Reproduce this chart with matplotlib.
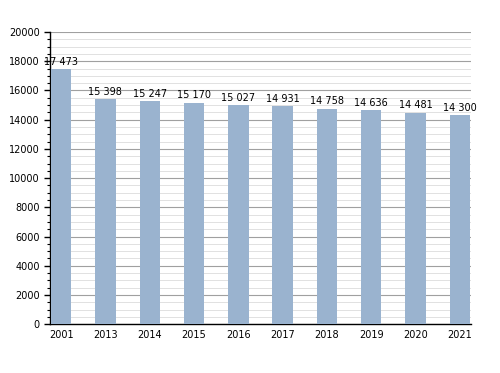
import matplotlib.pyplot as plt
from matplotlib.ticker import MultipleLocator

years = ['2001', '2013', '2014', '2015', '2016', '2017', '2018', '2019', '2020', '2021']
population = [17473, 15398, 15247, 15170, 15027, 14931, 14758, 14636, 14481, 14300]

fig = plt.figure(figsize=(5, 3.73), dpi=100)
ax = fig.add_axes([0.1, 0.131, 0.842, 0.783])

x = list(range(len(years)))
ax.bar(x, population, width=0.46, color='#9ab3cf', zorder=3)

for xi, v in zip(x, population):
    label = f'{v:,}'.replace(',', ' ')
    ax.text(xi, v + 150, label, ha='center', va='bottom', fontsize=7, zorder=4)

ax.set_xlim(-0.25, 9.25)
ax.set_ylim(0, 20000)
ax.set_xticks(x)
ax.set_xticklabels(years, fontsize=7)
ax.yaxis.set_major_locator(MultipleLocator(2000))
ax.yaxis.set_minor_locator(MultipleLocator(500))
ax.tick_params(axis='y', labelsize=7, length=4, width=1)
ax.tick_params(axis='y', which='minor', length=2, width=0.8)
ax.tick_params(axis='x', length=0, pad=4)

ax.grid(axis='y', which='major', color='#a0a0a0', linewidth=0.8, zorder=0)
ax.grid(axis='y', which='minor', color='#dcdcdc', linewidth=0.6, zorder=0)

for side in ['top', 'right']:
    ax.spines[side].set_visible(False)
ax.spines['left'].set_linewidth(1)
ax.spines['bottom'].set_linewidth(1)

fig.savefig('out.png', dpi=100)
